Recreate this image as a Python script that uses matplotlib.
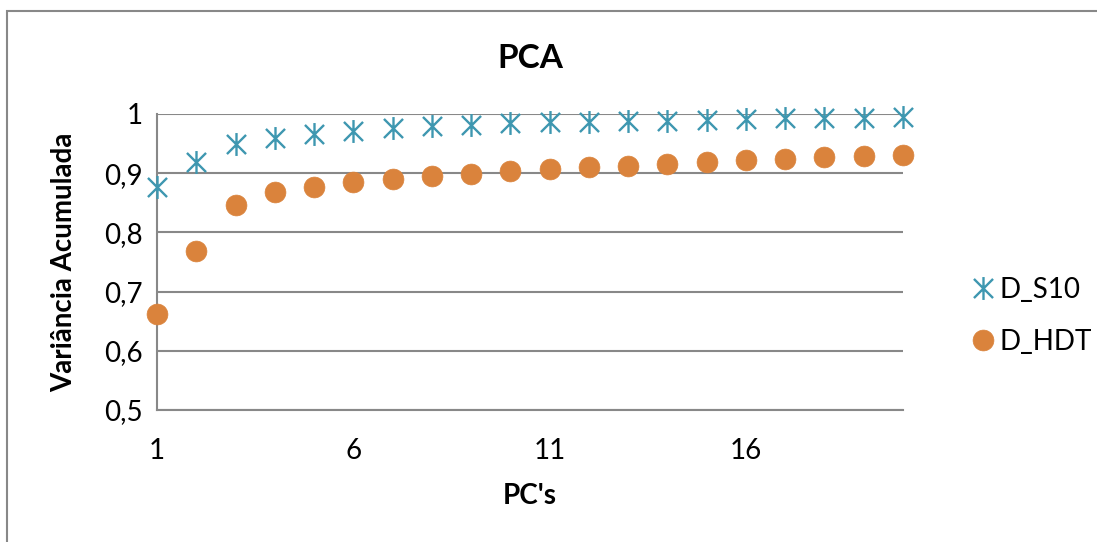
import matplotlib
matplotlib.use("Agg")
import matplotlib.pyplot as plt
from matplotlib.path import Path
from matplotlib.patches import Rectangle

pcs = list(range(1, 21))
d_s10 = [0.877, 0.919, 0.949, 0.960, 0.967, 0.971, 0.976, 0.979, 0.981, 0.984,
         0.986, 0.987, 0.988, 0.989, 0.990, 0.991, 0.993, 0.993, 0.994, 0.995]
d_hdt = [0.663, 0.769, 0.847, 0.868, 0.876, 0.885, 0.890, 0.895, 0.899, 0.903,
         0.907, 0.910, 0.913, 0.916, 0.919, 0.922, 0.924, 0.927, 0.929, 0.931]
x_ticks = [1, 6, 11, 16]
y_ticks = [0.5, 0.6, 0.7, 0.8, 0.9, 1.0]
y_labels = ["0,5", "0,6", "0,7", "0,8", "0,9", "1"]

teal = "#3E97B0"
orange = "#DA833C"
grid_gray = "#888888"

plt.rcParams['font.family'] = ['Lato', 'DejaVu Sans']

# excel style asterisk: X plus a vertical bar
star = Path([(-1, -1), (1, 1), (-1, 1), (1, -1), (0, -1.2), (0, 1.2)],
            [Path.MOVETO, Path.LINETO, Path.MOVETO, Path.LINETO, Path.MOVETO, Path.LINETO])

fig = plt.figure(figsize=(10.97, 5.42), dpi=100)
ax = fig.add_axes([157 / 1097, 1 - 410 / 542, (903 - 157) / 1097, (410 - 114) / 542])

fig.patches.append(Rectangle((7 / 1097, -0.1), 1.5, 1 - 11 / 542 + 0.1,
                             transform=fig.transFigure, fill=False,
                             edgecolor=grid_gray, linewidth=1.5))

ax.plot(pcs, d_s10, linestyle="none", marker=star, markersize=16.5,
        markeredgecolor=teal, markerfacecolor="none", markeredgewidth=1.7,
        label="D_S10", clip_on=False, zorder=3)
ax.plot(pcs, d_hdt, linestyle="none", marker="o", markersize=15,
        markeredgecolor=orange, markerfacecolor=orange, markeredgewidth=0.5,
        label="D_HDT", clip_on=False, zorder=3)

ax.set_xlim(1, 20)
ax.set_ylim(0.5, 1.0)
ax.set_xticks(x_ticks)
ax.set_yticks(y_ticks)
ax.set_yticklabels(y_labels)
ax.tick_params(length=0, labelsize=20, pad=20)
ax.tick_params(axis="y", pad=10)
ax.grid(axis="y", color=grid_gray, linewidth=1.5)
ax.set_axisbelow(True)
for side in ["top", "right"]:
    ax.spines[side].set_visible(False)
for side in ["left", "bottom"]:
    ax.spines[side].set_color(grid_gray)
    ax.spines[side].set_linewidth(1.5)

ax.set_title("PCA", fontsize=24, fontweight="bold", pad=33)
ax.set_xlabel("PC's", fontsize=20, fontweight="bold", labelpad=14)
ax.set_ylabel("Variância Acumulada", fontsize=20, fontweight="bold", labelpad=20)

ax.legend(loc="center left", bbox_to_anchor=(1.055, 0.318), frameon=False,
          fontsize=20, handletextpad=0.1, labelspacing=0.95, handlelength=1.0)

fig.savefig("out.png", dpi=100)
